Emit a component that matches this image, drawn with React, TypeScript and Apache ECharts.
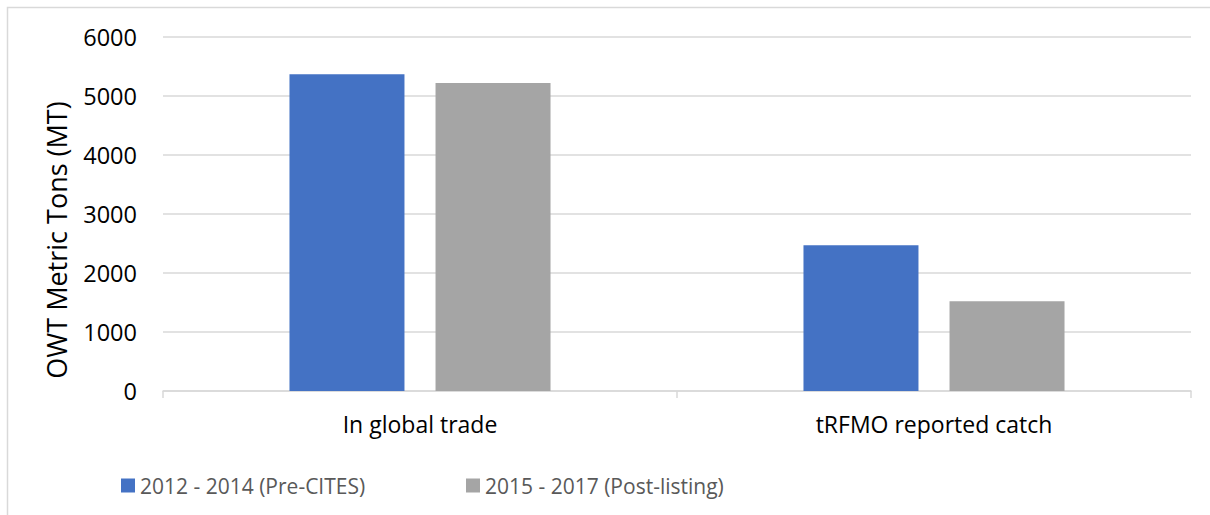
import React, { useEffect, useRef } from "react";
import * as echarts from "echarts";

const categories = ["In global trade", "tRFMO reported catch"];
const seriesNames = ["2012 - 2014 (Pre-CITES)", "2015 - 2017 (Post-listing)"];
const preCites = [5370, 2470];
const postListing = [5220, 1520];
const yTicks = { min: 0, max: 6000, interval: 1000 };
const yTitle = "OWT Metric Tons (MT)";

const FONT = "'Open Sans', 'Noto Sans', sans-serif";

export default function App() {
  const ref = useRef<HTMLDivElement>(null);
  useEffect(() => {
    if (!ref.current) return;
    const chart = echarts.init(ref.current, undefined, { renderer: "svg" });
    chart.setOption({
      animation: false,
      backgroundColor: "#ffffff",
      textStyle: { fontFamily: FONT },
      graphic: [
        {
          type: "rect",
          shape: { x: 7.5, y: 7.5, width: 1400, height: 700 },
          style: { fill: "none", stroke: "#d9d9d9", lineWidth: 1.5 },
          silent: true,
          z: -10,
        },
        {
          type: "text",
          x: 56,
          y: 240,
          rotation: Math.PI / 2,
          style: {
            text: yTitle,
            fontFamily: FONT,
            fontSize: 27,
            fill: "#000000",
            align: "center",
            verticalAlign: "middle",
          },
          silent: true,
        },
      ],
      grid: { left: 163, right: 19, top: 37, bottom: 124, containLabel: false },
      legend: [
        {
          data: [seriesNames[0]],
          left: 121,
          top: 475,
          padding: 0,
          icon: "rect",
          itemWidth: 14,
          itemHeight: 14,
          textStyle: { fontFamily: FONT, fontSize: 21, color: "#595959" },
          selectedMode: false,
        },
        {
          data: [seriesNames[1]],
          left: 466,
          top: 475,
          padding: 0,
          icon: "rect",
          itemWidth: 14,
          itemHeight: 14,
          textStyle: { fontFamily: FONT, fontSize: 21, color: "#595959" },
          selectedMode: false,
        },
      ],
      xAxis: {
        type: "category",
        data: categories,
        axisLine: { show: true, lineStyle: { color: "#d9d9d9", width: 1.5 } },
        axisTick: { show: true, length: 7, lineStyle: { color: "#d9d9d9", width: 1.5 } },
        axisLabel: { fontFamily: FONT, fontSize: 23, color: "#000000", margin: 21 },
      },
      yAxis: {
        type: "value",
        min: yTicks.min,
        max: yTicks.max,
        interval: yTicks.interval,
        axisLine: { show: false },
        axisTick: { show: false },
        axisLabel: {
          fontFamily: FONT,
          fontSize: 23.5,
          color: "#000000",
          margin: 26,
          formatter: (v: number) => String(v),
        },
        splitLine: { lineStyle: { color: "#d9d9d9", width: 1.5 } },
      },
      series: [
        {
          name: seriesNames[0],
          type: "bar",
          data: preCites,
          barWidth: 115,
          barGap: "27%",
          itemStyle: { color: "#4472c4" },
        },
        {
          name: seriesNames[1],
          type: "bar",
          data: postListing,
          barWidth: 115,
          itemStyle: { color: "#a5a5a5" },
        },
      ],
    });
    return () => chart.dispose();
  }, []);
  return (
    <div
      ref={ref}
      style={{ position: "absolute", left: 0, top: 0, width: 1210, height: 515 }}
    />
  );
}
